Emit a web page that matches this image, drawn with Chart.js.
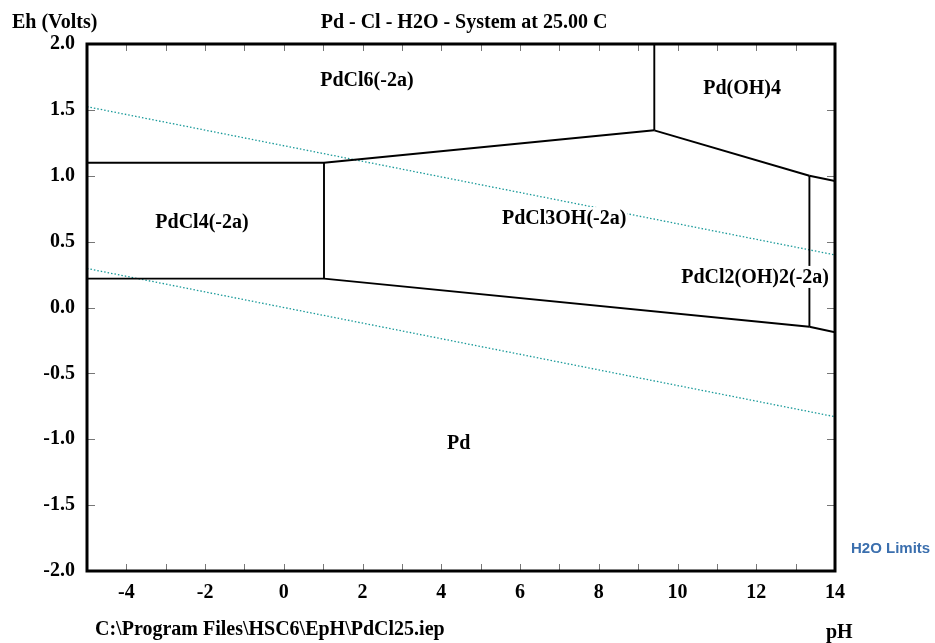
<!DOCTYPE html>
<html>
<head>
<meta charset="utf-8">
<title>Pd - Cl - H2O Eh-pH</title>
<script src="https://cdn.jsdelivr.net/npm/chart.js@4.4.1/dist/chart.umd.min.js"></script>
<style>
    html, body { margin: 0; padding: 0; background: #fff; }
    #wrap { width: 935px; height: 643px; }
</style>
</head>
<body>
<div id="wrap"><canvas id="eph" width="935" height="643"></canvas></div>
<script>
// Axis ranges
const phMin = -5, phMax = 14;
const ehMin = -2, ehMax = 2;

// Stability field boundaries, one entry per straight segment
const boundaryPH = [
    [-5, 1.02],       // PdCl6 / PdCl4
    [1.02, 1.02],     // PdCl4 / PdCl3OH
    [1.02, 9.41],     // PdCl6 / PdCl3OH
    [9.41, 9.41],     // PdCl6 / Pd(OH)4
    [9.41, 13.35],    // Pd(OH)4 / PdCl3OH
    [13.35, 14],      // Pd(OH)4 / PdCl2(OH)2
    [13.35, 13.35],   // PdCl3OH / PdCl2(OH)2
    [-5, 1.02],       // PdCl4 / Pd
    [1.02, 13.35],    // PdCl3OH / Pd
    [13.35, 14]       // PdCl2(OH)2 / Pd
];
const boundaryEh = [
    [1.099, 1.099],
    [1.099, 0.219],
    [1.099, 1.345],
    [1.345, 2.0],
    [1.345, 1.0],
    [1.0, 0.96],
    [1.0, -0.146],
    [0.219, 0.219],
    [0.219, -0.146],
    [-0.146, -0.188]
];

// Water stability limits: O2/H2O above, H2O/H2 below
const waterPH = [-5, 14];
const waterUpperEh = [1.524, 0.399];
const waterLowerEh = [0.296, -0.829];

// Species labels placed at (pH, Eh)
const speciesNames = ['PdCl6(-2a)', 'Pd(OH)4', 'PdCl4(-2a)', 'PdCl3OH(-2a)', 'PdCl2(OH)2(-2a)', 'Pd'];
const speciesPH = [2.11, 11.64, -2.08, 7.12, 11.97, 4.44];
const speciesEh = [1.727, 1.666, 0.649, 0.679, 0.232, -1.028];

const SERIF_FAMILY = '"Liberation Serif", "Times New Roman", serif';
const SERIF = 'bold 20px ' + SERIF_FAMILY;

function toPoints(xs, ys) {
    return xs.map((x, i) => ({ x: x, y: ys[i] }));
}

const datasets = [];
boundaryPH.forEach((xs, i) => {
    datasets.push({
        data: toPoints(xs, boundaryEh[i]),
        showLine: true,
        borderColor: '#000',
        borderWidth: 1.9,
        pointRadius: 0,
        fill: false
    });
});
[waterUpperEh, waterLowerEh].forEach(ys => {
    datasets.push({
        data: toPoints(waterPH, ys),
        showLine: true,
        borderColor: '#1a9a9a',
        borderWidth: 1.3,
        borderDash: [1.5, 2],
        pointRadius: 0,
        fill: false
    });
});

// Species names with a white box behind them
const speciesLabels = {
    id: 'speciesLabels',
    afterDatasetsDraw(chart) {
        const ctx = chart.ctx;
        const sx = chart.scales.x, sy = chart.scales.y;
        ctx.save();
        ctx.font = SERIF;
        ctx.textAlign = 'center';
        ctx.textBaseline = 'middle';
        speciesNames.forEach((name, i) => {
            const px = sx.getPixelForValue(speciesPH[i]);
            const py = sy.getPixelForValue(speciesEh[i]);
            const w = ctx.measureText(name).width;
            ctx.fillStyle = '#fff';
            ctx.fillRect(px - w / 2 - 1, py - 11, w + 2, 22);
            ctx.fillStyle = '#000';
            ctx.fillText(name, px, py + 1);
        });
        ctx.restore();
    }
};

// Heavy frame and inward tick marks
const frameTicks = {
    id: 'frameTicks',
    afterDatasetsDraw(chart) {
        const ctx = chart.ctx;
        const a = chart.chartArea;
        const sx = chart.scales.x, sy = chart.scales.y;
        ctx.save();
        ctx.strokeStyle = '#777';
        ctx.lineWidth = 1;
        ctx.beginPath();
        for (let v = phMin + 1; v < phMax; v++) {
            const x = Math.round(sx.getPixelForValue(v)) + 0.5;
            ctx.moveTo(x, a.bottom); ctx.lineTo(x, a.bottom - 7);
            ctx.moveTo(x, a.top); ctx.lineTo(x, a.top + 7);
        }
        for (let v = ehMin + 0.5; v < ehMax; v += 0.5) {
            const y = Math.round(sy.getPixelForValue(v)) + 0.5;
            ctx.moveTo(a.left, y); ctx.lineTo(a.left + 8, y);
            ctx.moveTo(a.right, y); ctx.lineTo(a.right - 8, y);
        }
        ctx.stroke();
        ctx.strokeStyle = '#000';
        ctx.lineWidth = 3;
        ctx.strokeRect(a.left, a.top, a.right - a.left, a.bottom - a.top);
        ctx.restore();
    }
};

// Header, footer and legend text
const captions = {
    id: 'captions',
    afterDraw(chart) {
        const ctx = chart.ctx;
        ctx.save();
        ctx.fillStyle = '#000';
        ctx.font = SERIF;
        ctx.textBaseline = 'alphabetic';
        ctx.textAlign = 'left';
        ctx.fillText('Eh (Volts)', 12, 28);
        ctx.fillText('C:\\Program Files\\HSC6\\EpH\\PdCl25.iep', 95, 635);
        ctx.fillText('pH', 826, 638);
        ctx.textAlign = 'center';
        ctx.fillText('Pd - Cl - H2O - System at 25.00 C', 464, 28);
        ctx.textAlign = 'left';
        ctx.font = 'bold 15px "Liberation Sans", Arial, sans-serif';
        ctx.fillStyle = '#3b6fae';
        ctx.fillText('H2O Limits', 851, 553);
        ctx.restore();
    }
};

new Chart(document.getElementById('eph'), {
    type: 'scatter',
    data: { datasets: datasets },
    options: {
        responsive: false,
        animation: false,
        layout: { padding: { left: 0, right: 100, top: 44, bottom: 0 } },
        plugins: {
            legend: { display: false },
            tooltip: { enabled: false }
        },
        elements: { line: { tension: 0 } },
        scales: {
            x: {
                type: 'linear',
                min: phMin,
                max: phMax,
                afterFit: (scale) => { scale.height = 72; },
                grid: { display: false, drawTicks: false },
                border: { display: false },
                ticks: {
                    stepSize: 1,
                    autoSkip: false,
                    maxRotation: 0,
                    padding: 10,
                    color: '#000',
                    font: { family: SERIF_FAMILY, size: 20, weight: 'bold' },
                    callback: (v) => (v % 2 === 0 ? String(v) : '')
                }
            },
            y: {
                type: 'linear',
                min: ehMin,
                max: ehMax,
                afterFit: (scale) => { scale.width = 87; },
                grid: { display: false, drawTicks: false },
                border: { display: false },
                ticks: {
                    stepSize: 0.5,
                    padding: 12,
                    color: '#000',
                    font: { family: SERIF_FAMILY, size: 20, weight: 'bold' },
                    callback: (v) => v.toFixed(1)
                }
            }
        }
    },
    plugins: [speciesLabels, frameTicks, captions]
});
</script>
</body>
</html>
